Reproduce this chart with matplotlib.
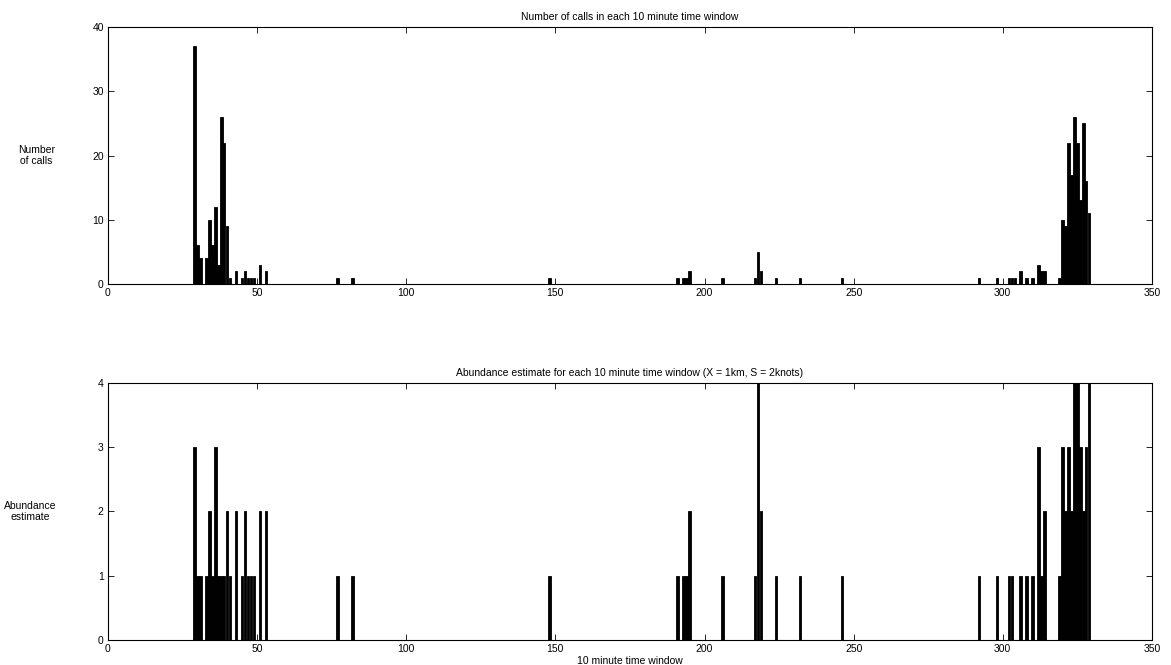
import matplotlib
matplotlib.use("Agg")
import matplotlib.pyplot as plt

plt.rcParams['font.family'] = ['Liberation Sans', 'DejaVu Sans']

# 10 minute windows and number of calls (top panel)
call_windows = [29, 30, 31, 33, 34, 35, 36, 37, 38, 39, 40, 41, 43, 45, 46, 47, 48, 49, 51, 53,
                77, 82, 148, 191, 193, 194, 195, 206, 217, 218, 219, 224, 232, 246,
                292, 298, 302, 303, 304, 306, 308, 310, 312, 313, 314,
                319, 320, 321, 322, 323, 324, 325, 326, 327, 328, 329]
call_counts = [37, 6, 4, 4, 10, 6, 12, 3, 26, 22, 9, 1, 2, 1, 2, 1, 1, 1, 3, 2,
               1, 1, 1, 1, 1, 1, 2, 1, 1, 5, 2, 1, 1, 1,
               1, 1, 1, 1, 1, 2, 1, 1, 3, 2, 2,
               1, 10, 9, 22, 17, 26, 22, 13, 25, 16, 11]

# abundance estimate (bottom panel)
abund_windows = [29, 30, 31, 33, 34, 35, 36, 37, 38, 39, 40, 41, 43, 45, 46, 47, 48, 49, 51, 53,
                 77, 82, 148, 191, 193, 194, 195, 206, 217, 218, 219, 224, 232, 246,
                 292, 298, 302, 303, 306, 308, 310, 312, 313, 314,
                 319, 320, 321, 322, 323, 324, 325, 326, 327, 328, 329]
abund_values = [3, 1, 1, 1, 2, 1, 3, 1, 1, 1, 2, 1, 2, 1, 2, 1, 1, 1, 2, 2,
                1, 1, 1, 1, 1, 1, 2, 1, 1, 4, 2, 1, 1, 1,
                1, 1, 1, 1, 1, 1, 1, 3, 1, 2,
                1, 3, 2, 3, 2, 4, 4, 3, 2, 3, 4]

fig = plt.figure(figsize=(11.71, 6.65), dpi=100)
ax1 = fig.add_axes([0.0922, 0.5729, 0.8915, 0.3865])
ax2 = fig.add_axes([0.0922, 0.0376, 0.8915, 0.3865])

def style(ax, ymax, yticks):
    ax.set_xlim(0, 350)
    ax.set_ylim(0, ymax)
    ax.set_xticks(range(0, 351, 50))
    ax.set_yticks(yticks)
    ax.tick_params(direction='in', top=True, right=True, labelsize=7.5,
                   length=4, width=0.6, pad=3)
    for s in ax.spines.values():
        s.set_linewidth(0.8)

ax1.bar(call_windows, call_counts, width=0.8, color='black', edgecolor='black', linewidth=0.6)
style(ax1, 40, range(0, 41, 10))
ax1.set_title('Number of calls in each 10 minute time window', fontsize=7.5, pad=5)
ax1.set_ylabel('Number\nof calls', rotation=0, fontsize=7.5, labelpad=40, va='center')

ax2.bar(abund_windows, abund_values, width=0.8, color='black', edgecolor='black', linewidth=0.6)
style(ax2, 4, range(0, 5))
ax2.set_title('Abundance estimate for each 10 minute time window (X = 1km, S = 2knots)',
              fontsize=7.5, pad=5)
ax2.set_ylabel('Abundance\nestimate', rotation=0, fontsize=7.5, labelpad=49, va='center')
ax2.set_xlabel('10 minute time window', fontsize=7.5, labelpad=1)

fig.savefig('out.png', dpi=100)
